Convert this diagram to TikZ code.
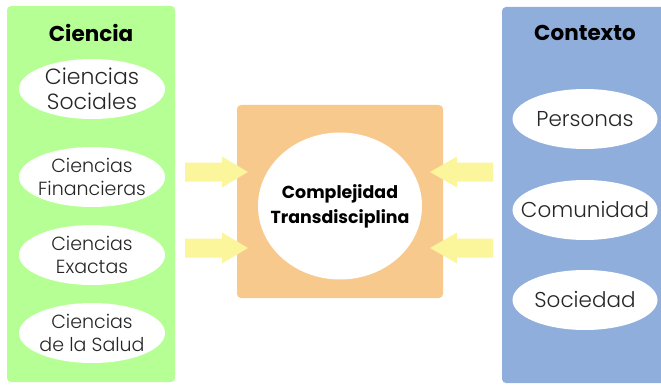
\documentclass[tikz,border=0pt]{standalone}
\usepackage{fontspec}
\setmainfont{Poppins}
\newfontfamily\lightfont{Poppins Light}
\begin{document}
\begin{tikzpicture}[x=1pt,y=-1pt,
  panel/.style={rounded corners=4pt, inner sep=0pt},
  title/.style={font=\fontsize{21.5}{24}\selectfont\bfseries, text=black},
  % negative separation keeps the ellipse at its minimum size
  item/.style={ellipse, fill=white, minimum width=146pt, minimum height=60pt,
    inner xsep=-16pt, inner ysep=-5pt, align=center,
    font=\lightfont\fontsize{19}{23}\selectfont, text=black!85},
  ctx/.style={item, minimum width=145pt, font=\lightfont\fontsize{21.5}{24}\selectfont},
  blockarrow/.style={fill=arrowyellow},
]
\definecolor{greenpanel}{HTML}{B6FF94}
\definecolor{bluepanel}{HTML}{8FAEDC}
\definecolor{orangebox}{HTML}{F8C98C}
\definecolor{arrowyellow}{HTML}{FBF59C}
\usetikzlibrary{shapes.geometric}
\useasboundingbox (0,0) rectangle (661,385);

% side panels and centre box
\fill[greenpanel, panel] (7,6) rectangle (175,382);
\fill[bluepanel, panel] (502,7) rectangle (665,383);
\fill[orangebox, panel] (237,105) rectangle (443,298);

\node[title] (ciencia) at (91,33) {Ciencia};
\node[title] (contexto) at (585,33) {Contexto};

% science branches
\node[item, font=\lightfont\fontsize{22}{25}\selectfont] (soc) at (92,89) {Ciencias\\Sociales};
\node[item] (fin) at (92,177) {Ciencias\\Financieras};
\node[item] (exa) at (92,255) {Ciencias\\Exactas};
\node[item] (sal) at (92,333) {Ciencias\\de la Salud};

% context levels
\node[ctx] (per) at (585,119) {Personas};
\node[ctx] (com) at (585,210) {Comunidad};
\node[ctx] (soci) at (585,300) {Sociedad};

% central node
\node[ellipse, fill=white, minimum width=164pt, minimum height=147pt,
  inner xsep=-16pt, inner ysep=-5pt,
  align=center, font=\fontsize{17.4}{25}\selectfont\bfseries] (core) at (340,206)
  {Complejidad\\Transdisciplina};

% block arrows pointing into the centre
\foreach \yc in {172,248}{
  \fill[blockarrow] (185,\yc-9.5) -- (222,\yc-9.5) -- (222,\yc-15.5) -- (248,\yc)
    -- (222,\yc+15.5) -- (222,\yc+9.5) -- (185,\yc+9.5) -- cycle;
  \fill[blockarrow] (493,\yc-9.5) -- (457,\yc-9.5) -- (457,\yc-15.5) -- (430,\yc)
    -- (457,\yc+15.5) -- (457,\yc+9.5) -- (493,\yc+9.5) -- cycle;
}
\end{tikzpicture}
\end{document}
